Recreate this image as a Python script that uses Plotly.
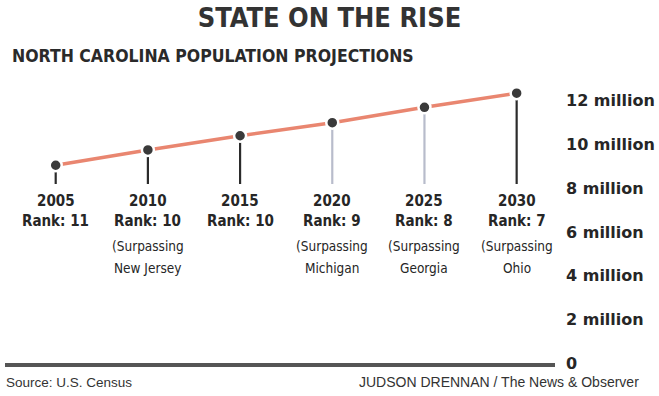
import plotly.graph_objects as go

# ---- data ----
years = [2005, 2010, 2015, 2020, 2025, 2030]
population_millions = [9.05, 9.75, 10.4, 11.0, 11.7, 12.35]
rank_labels = ["Rank: 11", "Rank: 10", "Rank: 10", "Rank: 9", "Rank: 8", "Rank: 7"]
surpassed_states = ["", "New Jersey", "", "Michigan", "Georgia", "Ohio"]
axis_tick_values = [0, 2, 4, 6, 8, 10, 12]
axis_tick_labels = ["0", "2 million", "4 million", "6 million", "8 million", "10 million", "12 million"]

# ---- layout geometry (pixels) ----
W, H = 659, 396
PLOT_L, PLOT_R, PLOT_T, PLOT_B = 5, 555, 80, 363
PX_PER_UNIT = 21.85
Y_MAX = (PLOT_B - PLOT_T) / PX_PER_UNIT


def py(pix):
    """pixel row -> paper y"""
    return (PLOT_B - pix) / (PLOT_B - PLOT_T)


def px(pix):
    """pixel column -> paper x"""
    return (pix - PLOT_L) / (PLOT_R - PLOT_L)


STEM_BOTTOM = (PLOT_B - 184) / PX_PER_UNIT
stem_colors = ["#2b2b2b", "#2b2b2b", "#2b2b2b", "#b8bccb", "#b8bccb", "#2b2b2b"]

COND = "DejaVu Sans Condensed, DejaVu Sans, sans-serif"
TXT = "#262626"

fig = go.Figure()

# stems from points down to labels
for yr, val, col in zip(years, population_millions, stem_colors):
    fig.add_trace(go.Scatter(
        x=[yr, yr], y=[val, STEM_BOTTOM], mode="lines",
        line=dict(color=col, width=2.2), hoverinfo="skip", showlegend=False))

# main line with markers
fig.add_trace(go.Scatter(
    x=years, y=population_millions, mode="lines+markers",
    line=dict(color="#E98670", width=3.5),
    marker=dict(size=12, color="#3a3a3a", line=dict(color="white", width=2.5)),
    showlegend=False))

annotations = []
for yr, rank, st in zip(years, rank_labels, surpassed_states):
    annotations.append(dict(x=yr, xref="x", y=py(201), yref="paper", text=str(yr),
                            showarrow=False, yanchor="middle",
                            font=dict(family=COND, size=15, color=TXT, weight="bold")))
    annotations.append(dict(x=yr, xref="x", y=py(221), yref="paper", text=rank,
                            showarrow=False, yanchor="middle",
                            font=dict(family=COND, size=15, color=TXT, weight="bold")))
    if st:
        annotations.append(dict(x=yr, xref="x", y=py(246), yref="paper", text="(Surpassing",
                                showarrow=False, yanchor="middle",
                                font=dict(family=COND, size=13.5, color=TXT)))
        annotations.append(dict(x=yr, xref="x", y=py(268), yref="paper", text=st,
                                showarrow=False, yanchor="middle",
                                font=dict(family=COND, size=13.5, color=TXT)))

# subtitle
annotations.append(dict(x=px(10), xref="paper", y=py(56), yref="paper",
                        text="NORTH CAROLINA POPULATION PROJECTIONS", showarrow=False,
                        xanchor="left", yanchor="middle",
                        font=dict(family=COND, size=17.5, color="#2a2a2a", weight="bold")))
# footer
annotations.append(dict(x=px(4), xref="paper", y=py(382), yref="paper",
                        text="Source: U.S. Census", showarrow=False,
                        xanchor="left", yanchor="middle",
                        font=dict(family="Liberation Sans, Arial, sans-serif", size=13.5, color="#333")))
annotations.append(dict(x=px(641), xref="paper", y=py(382), yref="paper",
                        text="JUDSON DRENNAN / The News &amp; Observer", showarrow=False,
                        xanchor="right", yanchor="middle",
                        font=dict(family="Liberation Sans, Arial, sans-serif", size=14, color="#333")))

fig.update_layout(
    width=W, height=H,
    margin=dict(l=PLOT_L, r=W - PLOT_R, t=PLOT_T, b=H - PLOT_B, pad=0),
    paper_bgcolor="white", plot_bgcolor="white",
    title=dict(text="STATE ON THE RISE", x=0.5, xref="container", xanchor="center",
               y=1 - 18 / H, yref="container", yanchor="middle",
               font=dict(family=COND, size=27, color="#333", weight="bold")),
    xaxis=dict(range=[2002.25, 2032.08], showgrid=False, zeroline=False,
               showticklabels=False, ticks="", showline=True,
               linecolor="#555", linewidth=4, fixedrange=True),
    yaxis=dict(range=[0, Y_MAX], side="right", showgrid=False, zeroline=False,
               showline=False, ticks="", tickvals=axis_tick_values,
               ticktext=axis_tick_labels, ticklabelstandoff=10,
               tickfont=dict(family="DejaVu Sans, sans-serif", size=16, color=TXT, weight="bold"),
               fixedrange=True),
    annotations=annotations,
    showlegend=False,
)

fig.write_html("out.html")
